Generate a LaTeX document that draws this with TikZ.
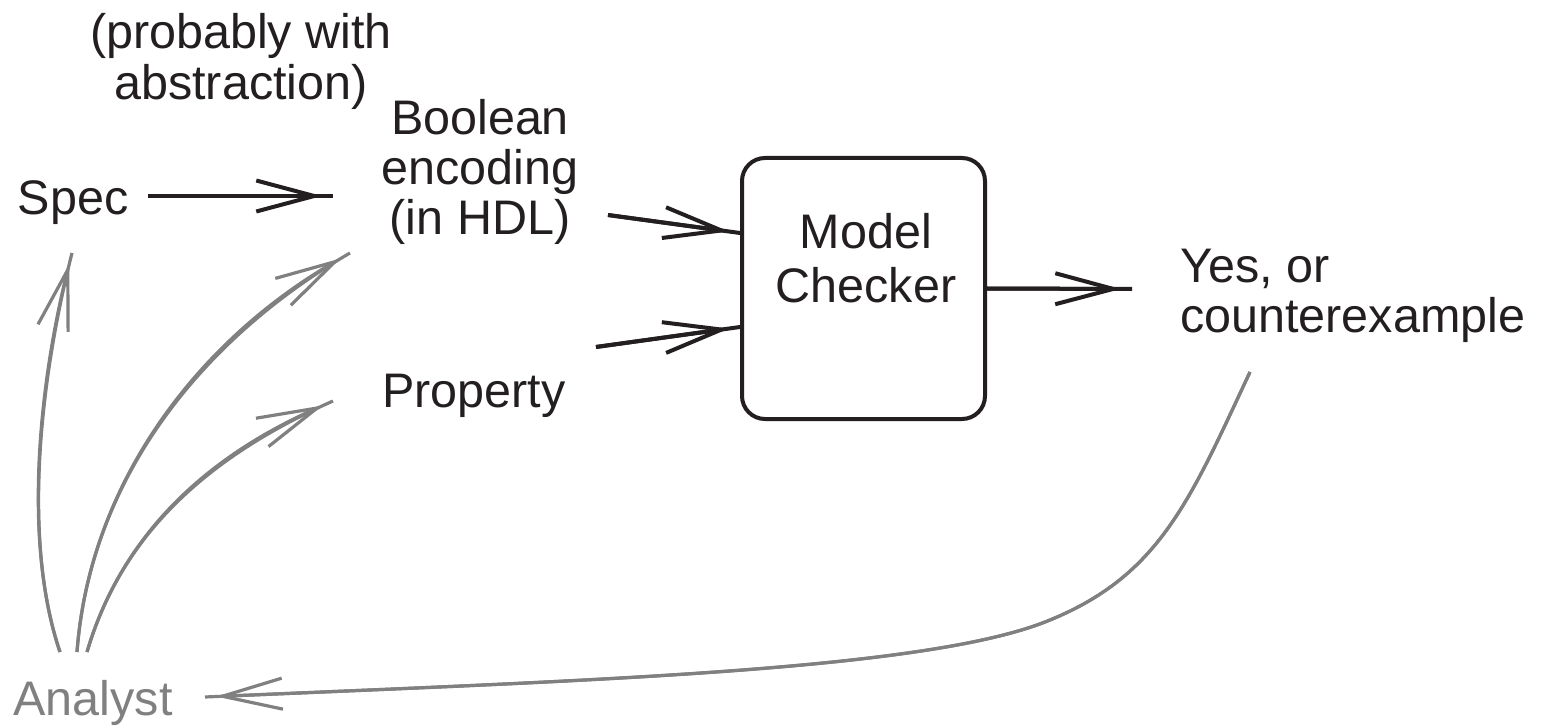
\documentclass[tikz,border=0pt]{standalone}
\usepackage{fontspec}
\setmainfont{Liberation Sans}
\usetikzlibrary{arrows.meta}
\definecolor{ink}{RGB}{35,31,32}
\definecolor{fade}{RGB}{128,128,128}
\begin{document}
\begin{tikzpicture}[x=1pt,y=-1pt,
  % multi-line labels are anchored at the baseline of their last line
  txt/.style={inner sep=0pt, text=ink, align=center, anchor=base,
    font=\fontsize{48.5}{50}\selectfont},
  flow/.style={line width=4pt, draw=ink,
    postaction={draw, shorten >=11pt, -{Straight Barb[length=58pt,width=31pt]}}},
  note/.style={line width=3.2pt, draw=fade,
    postaction={draw, shorten >=11pt, -{Straight Barb[length=60pt,width=31pt]}}},
  checker/.style={draw=ink, line width=4pt, rounded corners=23pt,
    minimum width=243pt, minimum height=261pt, inner sep=0pt}]
\fill[white] (0,0) rectangle (1543,727);
\useasboundingbox (0,0) rectangle (1543,727);

% labels
\node[txt, font=\fontsize{48.5}{51}\selectfont] (abs) at (241,100) {(probably with\\abstraction)};
\node[txt] (bool) at (480,235) {Boolean\\encoding\\(in HDL)};
\node[txt] (spec) at (73,215) {Spec};
\node[txt] (prop) at (474,407) {Property};
\node[txt, align=left, anchor=base west] (out) at (1180,333) {Yes, or\\counterexample};
\node[txt, text=fade] (analyst) at (93,715) {Analyst};

% model checker
\node[checker] (mc) at (863.5,288.5) {};
\node[txt, font=\fontsize{48.5}{54}\selectfont] (mclab) at (866,303) {Model\\Checker};

% free ends of the connectors
\coordinate (specR) at (148,196);
\coordinate (boolL) at (333,196);
\coordinate (boolR) at (608,215);
\coordinate (propR) at (596,347);
\coordinate (outL) at (1132,289);
\coordinate (outB) at (1250,372);
\coordinate (anT1) at (60,652);
\coordinate (anT2) at (77,652);
\coordinate (anT3) at (87,652);
\coordinate (anR) at (205,697);
\coordinate (specB) at (72,253);
\coordinate (boolB) at (350,253);
\coordinate (propL) at (333,401);

% main flow
\draw[flow] (specR) -- (boolL);
\draw[flow] (boolR) -- ([yshift=55.5pt]mc.west);
\draw[flow] (propR) -- ([yshift=-38.5pt]mc.west);
\draw[flow] (mc.east) -- (outL);

% analyst feedback
\draw[note] (anT1) .. controls (22,540) and (40,380) .. (specB);
\draw[note] (anT2) .. controls (90,480) and (200,340) .. (boolB);
\draw[note] (anT3) .. controls (120,540) and (200,460) .. (propL);
\draw[note] (outB) .. controls (1190,500) and (1160,575) .. (1050,620)
  .. controls (930,670) and (600,680) .. (anR);
\end{tikzpicture}
\end{document}
